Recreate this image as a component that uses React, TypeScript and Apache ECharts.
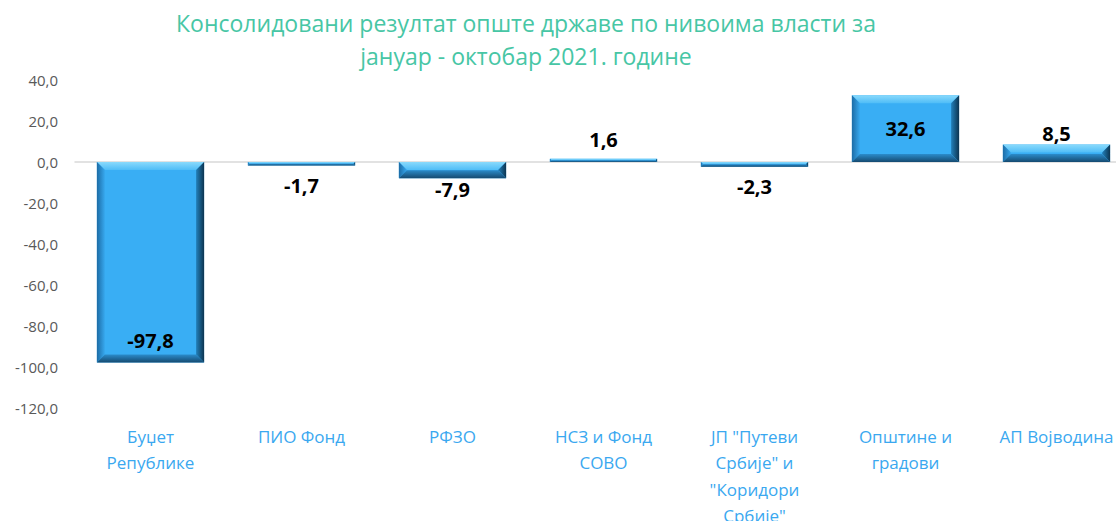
import React, { useEffect, useRef } from "react";
import * as echarts from "echarts";

const categories = [
  "Буџет\nРепублике",
  "ПИО Фонд",
  "РФЗО",
  "НСЗ и Фонд\nСОВО",
  "ЈП \"Путеви\nСрбије\" и\n\"Коридори\nСрбије\"",
  "Општине и\nградови",
  "АП Војводина",
];
const values = [-97.8, -1.7, -7.9, 1.6, -2.3, 32.6, 8.5];
const labelPositions = ["insideBottom", "bottom", "bottom", "top", "bottom", "inside", "top"];
const labelDistances = [12, 10, 1, 9, 10, 0, 1];
const titleText = "Консолидовани резултат опште државе по нивоима власти за\nјануар - октобар 2021. године";

const FONT = "'Open Sans', 'Noto Sans', sans-serif";

export default function App() {
  const ref = useRef<HTMLDivElement>(null);
  useEffect(() => {
    if (!ref.current) return;
    const chart = echarts.init(ref.current, undefined, { renderer: "svg" });
    const fmt = (v: number) => v.toFixed(1).replace(".", ",");
    chart.setOption({
      animation: false,
      backgroundColor: "#ffffff",
      title: {
        text: titleText,
        left: 521,
        textAlign: "center",
        top: 1,
        textStyle: {
          color: "#47C6A5",
          fontSize: 23,
          fontWeight: "normal",
          fontFamily: FONT,
          lineHeight: 33,
        },
      },
      grid: { left: 75, top: 80, width: 1057, height: 328, outerBoundsMode: "none", containLabel: false },
      xAxis: [
        {
          type: "category",
          data: categories,
          position: "bottom",
          axisLine: { show: false, onZero: false },
          axisTick: { show: false },
          axisLabel: {
            color: "#3AA8F0",
            fontSize: 17,
            fontFamily: FONT,
            lineHeight: 26.5,
            margin: 15,
            interval: 0,
          },
        },
        {
          type: "category",
          data: categories,
          position: "bottom",
          axisLine: { show: true, onZero: true, lineStyle: { color: "#D9D9D9", width: 1.5 } },
          axisTick: { show: false },
          axisLabel: { show: false },
        },
      ],
      yAxis: {
        type: "value",
        min: -120,
        max: 40,
        interval: 20,
        axisLine: { show: false },
        axisTick: { show: false },
        splitLine: { show: false },
        axisLabel: {
          color: "#595959",
          fontSize: 15,
          fontFamily: FONT,
          margin: 17,
          formatter: (v: number) => fmt(v),
        },
      },
      series: [
        {
          type: "custom",
          xAxisIndex: 0,
          data: values.map((v, i) => [i, v]),
          renderItem: (params: any, api: any) => {
            const idx = api.value(0);
            const v = api.value(1);
            const p0 = api.coord([idx, 0]);
            const p1 = api.coord([idx, v]);
            const w = api.size([1, 0])[0] * 0.71;
            const x0 = p0[0] - w / 2;
            const x1 = p0[0] + w / 2;
            const y0 = Math.min(p0[1], p1[1]);
            const y1 = Math.max(p0[1], p1[1]);
            const h = y1 - y0;
            const b = Math.min(8, h / 2, w / 2);
            const face = "#39AEF4";
            return {
              type: "group",
              children: [
                { type: "rect", shape: { x: x0, y: y0, width: w, height: h }, style: { fill: face } },
                {
                  type: "polygon",
                  shape: { points: [[x0, y0], [x1, y0], [x1 - b, y0 + b], [x0 + b, y0 + b]] },
                  style: {
                    fill: new echarts.graphic.LinearGradient(0, 0, 0, 1, [
                      { offset: 0, color: "#8ADAFC" },
                      { offset: 1, color: "#4FBDF7" },
                    ]),
                  },
                },
                {
                  type: "polygon",
                  shape: { points: [[x0, y0], [x0 + b, y0 + b], [x0 + b, y1 - b], [x0, y1]] },
                  style: {
                    fill: new echarts.graphic.LinearGradient(0, 0, 1, 0, [
                      { offset: 0, color: "#1C6CA6" },
                      { offset: 1, color: "#37A8EE" },
                    ]),
                  },
                },
                {
                  type: "polygon",
                  shape: { points: [[x1, y0], [x1, y1], [x1 - b, y1 - b], [x1 - b, y0 + b]] },
                  style: {
                    fill: new echarts.graphic.LinearGradient(0, 0, 1, 0, [
                      { offset: 0, color: "#2280BA" },
                      { offset: 1, color: "#0C3450" },
                    ]),
                  },
                },
                {
                  type: "polygon",
                  shape: { points: [[x0, y1], [x0 + b, y1 - b], [x1 - b, y1 - b], [x1, y1]] },
                  style: {
                    fill: new echarts.graphic.LinearGradient(0, 0, 0, 1, [
                      { offset: 0, color: "#2B8CCB" },
                      { offset: 1, color: "#154A70" },
                    ]),
                  },
                },
              ],
            };
          },
          z: 2,
        },
        {
          type: "bar",
          xAxisIndex: 0,
          barWidth: "71%",
          data: values.map((v, i) => ({
            value: v,
            label: {
              position: labelPositions[i],
              distance: labelDistances[i],
            },
          })),
          itemStyle: { color: "rgba(0,0,0,0)" },
          label: {
            show: true,
            color: "#000000",
            fontSize: 20,
            fontWeight: "bold",
            fontFamily: FONT,
            formatter: (p: any) => fmt(p.value),
          },
          z: 3,
        },
      ],
    });
    return () => chart.dispose();
  }, []);
  return (
    <div
      ref={ref}
      style={{ position: "absolute", left: 0, top: 0, width: 1116, height: 521 }}
    />
  );
}
